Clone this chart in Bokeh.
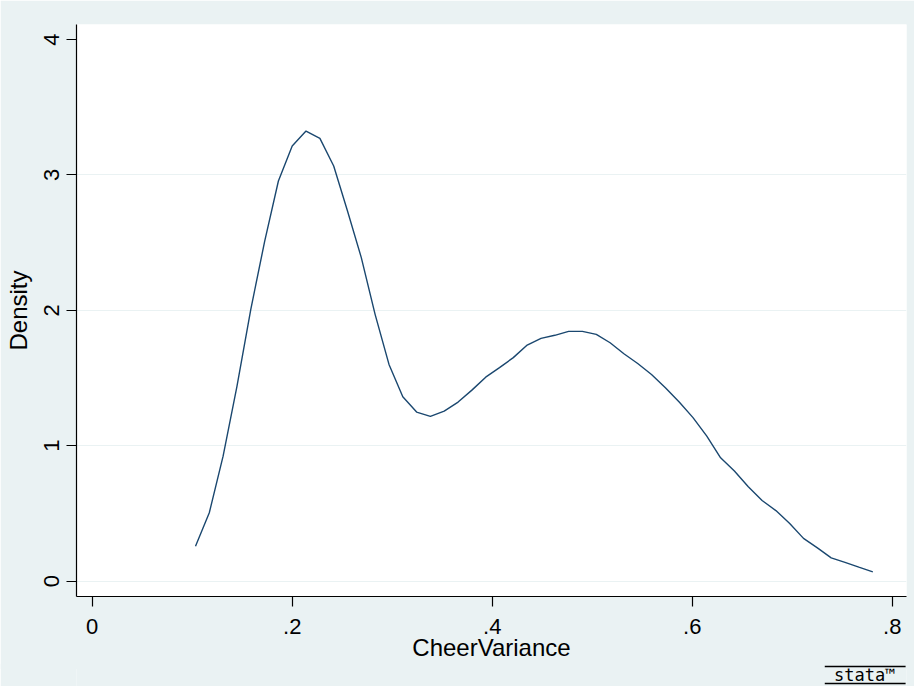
from bokeh.plotting import figure
from bokeh.models import Range1d, FixedTicker
from bokeh.layouts import column
from bokeh.core.properties import value
from bokeh.embed import file_html
from bokeh.resources import INLINE

# Kernel density estimate of CheerVariance (50 evaluation points)
cheer_variance = [
    0.1033, 0.1171, 0.1309, 0.1448, 0.1586, 0.1724, 0.1862, 0.2000, 0.2138, 0.2277,
    0.2415, 0.2553, 0.2691, 0.2829, 0.2968, 0.3106, 0.3244, 0.3382, 0.3520, 0.3659,
    0.3797, 0.3935, 0.4073, 0.4211, 0.4350, 0.4488, 0.4626, 0.4764, 0.4902, 0.5041,
    0.5179, 0.5317, 0.5455, 0.5593, 0.5732, 0.5870, 0.6008, 0.6146, 0.6284, 0.6422,
    0.6561, 0.6699, 0.6837, 0.6975, 0.7113, 0.7252, 0.7390, 0.7528, 0.7666, 0.7806,
]
density = [
    0.257, 0.504, 0.922, 1.440, 2.007, 2.507, 2.955, 3.214, 3.324, 3.270,
    3.066, 2.733, 2.389, 1.970, 1.600, 1.361, 1.248, 1.216, 1.255, 1.322,
    1.410, 1.506, 1.576, 1.650, 1.743, 1.792, 1.815, 1.844, 1.844, 1.822,
    1.760, 1.679, 1.607, 1.526, 1.428, 1.322, 1.207, 1.070, 0.910, 0.812,
    0.696, 0.595, 0.520, 0.425, 0.315, 0.245, 0.171, 0.137, 0.102, 0.068,
]
x_ticks = [0, 0.2, 0.4, 0.6, 0.8]
x_tick_labels = ["0", ".2", ".4", ".6", ".8"]
y_ticks = [0, 1, 2, 3, 4]
y_grid = [0, 1, 2, 3]
logo_text = ["stata™"]

BG = "#EAF2F3"
NAVY = "#1A476F"
FONT = "Liberation Sans"
W = 914

p = figure(width=W, height=669, output_backend="svg", toolbar_location=None,
           x_range=Range1d(-0.0157, 0.8143), y_range=Range1d(-0.1145, 4.111),
           min_border_left=76, min_border_top=24, min_border_right=8, min_border_bottom=73)
p.border_fill_color = BG
p.background_fill_color = "white"
p.outline_line_color = None

p.line(cheer_variance, density, line_color=NAVY, line_width=1.4)

p.xaxis.ticker = FixedTicker(ticks=x_ticks)
p.xaxis.major_label_overrides = {t: l for t, l in zip(x_ticks, x_tick_labels)}
p.yaxis.ticker = FixedTicker(ticks=y_ticks)
p.yaxis.major_label_orientation = "vertical"

for ax in (p.xaxis, p.yaxis):
    ax.axis_line_color = "black"
    ax.axis_line_width = 1.2
    ax.major_tick_line_color = "black"
    ax.major_tick_line_width = 1.2
    ax.major_tick_in = 0
    ax.major_tick_out = 10
    ax.minor_tick_line_color = None
    ax.major_label_text_font = FONT
    ax.major_label_text_font_size = "22px"
    ax.major_label_text_color = "black"
    ax.axis_label_text_font = FONT
    ax.axis_label_text_font_size = "24px"
    ax.axis_label_text_font_style = "normal"
    ax.axis_label_text_color = "black"

p.xaxis.major_label_standoff = 12
p.xaxis.axis_label_standoff = -3
p.yaxis.major_label_standoff = 7
p.yaxis.axis_label_standoff = 10

p.xaxis.axis_label = "CheerVariance"
p.yaxis.axis_label = "Density"

p.xgrid.visible = False
p.ygrid.ticker = FixedTicker(ticks=y_grid)
p.ygrid.grid_line_color = BG
p.ygrid.grid_line_width = 1.2

# Stata logo strip under the graph (overlaps the graph's empty bottom margin)
logo = figure(width=W, height=23, output_backend="svg", toolbar_location=None,
              x_range=Range1d(0, W), y_range=Range1d(0, 23),
              min_border=0, min_border_left=0, min_border_right=0,
              min_border_top=0, min_border_bottom=0)
logo.margin = (-6, 0, 0, 0)
logo.axis.visible = False
logo.grid.visible = False
logo.outline_line_color = None
logo.border_fill_color = BG
logo.background_fill_color = BG
logo.segment(x0=[824, 824], y0=[20, 3], x1=[913, 913], y1=[20, 3],
             line_color="black", line_width=1.5)
logo.text(x=[868], y=[11.5], text=logo_text, text_font=value("DejaVu Sans Mono"),
          text_font_size="17px", text_color="black", text_align="center",
          text_baseline="middle")

layout = column(p, logo, spacing=0)
open("out.html", "w").write(file_html(layout, INLINE))
